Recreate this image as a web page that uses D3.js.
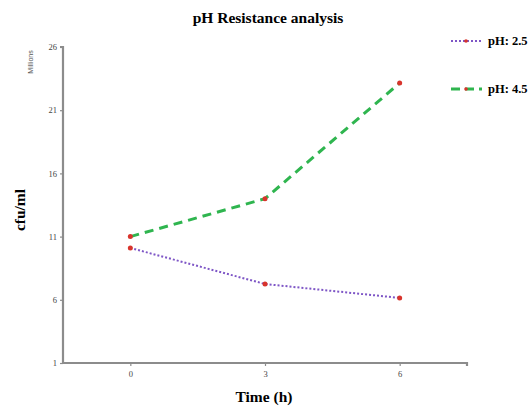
<!DOCTYPE html>
<html><head><meta charset="utf-8">
<script src="https://cdn.jsdelivr.net/npm/d3@7"></script>
<style>body{margin:0;background:#fff;overflow:hidden}svg{display:block}</style>
</head><body>
<script>
const times = [0, 3, 6];
const timeLabels = ["0", "3", "6"];
const ph25 = [10.1, 7.25, 6.15];
const ph45 = [11.0, 14.0, 23.15];
const yTicks = [1, 6, 11, 16, 21, 26];
const seriesNames = ["pH: 2.5", "pH: 4.5"];

const W = 528, H = 410;
const svg = d3.select("body").append("svg").attr("width", W).attr("height", H);
const x = d3.scaleLinear().domain([-1.5, 7.5]).range([63, 467]);
const y = d3.scaleLinear().domain([1, 26]).range([363, 47]);
const axisCol = "#8c8c8c";

// axes
const yAxis = svg.append("g").attr("transform", "translate(63,0)")
  .call(d3.axisLeft(y).tickValues(yTicks).tickSize(3).tickFormat(d3.format("d")));
const xAxis = svg.append("g").attr("transform", "translate(0,363)")
  .call(d3.axisBottom(x).tickValues(times).tickSize(3).tickFormat((d,i)=>timeLabels[i]));
[yAxis, xAxis].forEach(g => {
  g.select(".domain").attr("stroke", axisCol).attr("stroke-width", 2.2);
  g.selectAll(".tick line").attr("stroke", axisCol).attr("stroke-width", 1.2);
  g.selectAll(".tick text").attr("fill", "#444").attr("font-family", "Liberation Serif, serif").attr("font-size", 8.5);
});
xAxis.selectAll(".tick text").attr("dy", "0.9em");
xAxis.append("line").attr("x1", x(7.5)).attr("x2", x(7.5)).attr("y1", 0).attr("y2", 3)
  .attr("stroke", axisCol).attr("stroke-width", 1.2);
yAxis.select(".domain").attr("d", `M-3,${y(26)}H0V${y(1)}`);
xAxis.select(".domain").attr("d", `M${x(-1.5)},0H${x(7.5)}V3`);

// lines
const mkLine = vals => d3.line().x((d,i)=>x(times[i])).y(d=>y(d))(vals);
svg.append("path").attr("d", mkLine(ph25)).attr("fill", "none")
  .attr("stroke", "#7e56c6").attr("stroke-width", 2).attr("stroke-dasharray", "2,2");
svg.append("path").attr("d", mkLine(ph45)).attr("fill", "none")
  .attr("stroke", "#2fb54f").attr("stroke-width", 3).attr("stroke-dasharray", "9,6");
[ph25, ph45].forEach(vals => {
  svg.selectAll(null).data(vals).enter().append("circle")
    .attr("cx", (d,i)=>x(times[i])).attr("cy", d=>y(d)).attr("r", 2.5)
    .attr("fill", "#d8342c");
});

// text
svg.append("text").attr("x", 268).attr("y", 23).attr("text-anchor", "middle")
  .attr("font-family", "Liberation Serif, serif").attr("font-weight", "bold").attr("font-size", 15.5)
  .text("pH Resistance analysis");
svg.append("text").attr("x", 264).attr("y", 402).attr("text-anchor", "middle")
  .attr("font-family", "Liberation Serif, serif").attr("font-weight", "bold").attr("font-size", 15.5)
  .text("Time (h)");
svg.append("text").attr("transform", "translate(25,210) rotate(-90)").attr("text-anchor", "middle")
  .attr("font-family", "Liberation Serif, serif").attr("font-weight", "bold").attr("font-size", 15.5)
  .text("cfu/ml");
svg.append("text").attr("transform", "translate(33,62) rotate(-90)").attr("text-anchor", "middle")
  .attr("font-family", "Liberation Sans, sans-serif").attr("font-size", 7).attr("fill", "#555")
  .text("Millions");

// legend
const leg = [{y: 41, col: "#7e56c6", w: 2, dash: "2,2"}, {y: 89, col: "#2fb54f", w: 3, dash: "9,5"}];
leg.forEach((l, i) => {
  svg.append("line").attr("x1", 451).attr("x2", 482).attr("y1", l.y).attr("y2", l.y)
    .attr("stroke", l.col).attr("stroke-width", l.w).attr("stroke-dasharray", l.dash);
  svg.append("circle").attr("cx", 466).attr("cy", l.y).attr("r", 1.8).attr("fill", "#d8342c");
  svg.append("text").attr("x", 488).attr("y", l.y + 4)
    .attr("font-family", "Liberation Serif, serif").attr("font-weight", "bold").attr("font-size", 12.5)
    .text(seriesNames[i]);
});
</script>
</body></html>
